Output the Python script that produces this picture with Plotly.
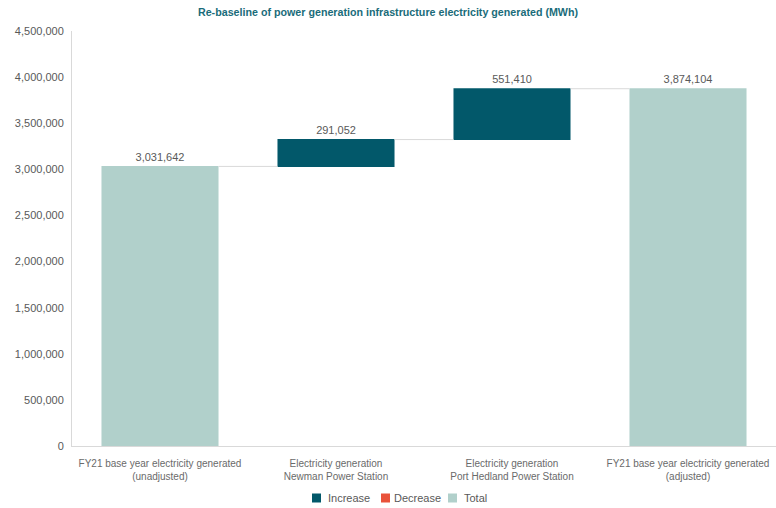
import plotly.graph_objects as go

categories = [
    "FY21 base year electricity generated<br>(unadjusted)",
    "Electricity generation<br>Newman Power Station",
    "Electricity generation<br>Port Hedland Power Station",
    "FY21 base year electricity generated<br>(adjusted)",
]
measures = ["absolute", "relative", "relative", "total"]
values = [3031642, 291052, 551410, 0]
legend_names = ["Increase", "Decrease", "Total"]

total = sum(values[:3])
labels = [f"{v:,}" for v in values[:3]] + [f"{total:,}"]

C_INC = "#02586a"
C_DEC = "#e9523a"
C_TOT = "#b1d0cb"
GREY = "#595959"
FONT = "Liberation Sans, Arial, sans-serif"

W, H = 776, 508
ML, MR, MT, MB = 72, 0, 31, 62
PW, PH = W - ML - MR, H - MT - MB


def px(x):
    return (x - ML) / PW


def py(y):
    return (H - MB - y) / PH


fig = go.Figure()
fig.add_trace(go.Waterfall(
    x=categories, y=values, measure=measures,
    text=labels, textposition="outside",
    textfont=dict(size=11, color=GREY, family=FONT),
    increasing=dict(marker=dict(color=C_INC)),
    decreasing=dict(marker=dict(color=C_DEC)),
    totals=dict(marker=dict(color=C_TOT)),
    connector=dict(mode="between", line=dict(color="#d9d9d9", width=1)),
    showlegend=False, cliponaxis=False, hoverinfo="skip",
))

# manual compact legend
leg_sq = [312, 381, 448]
leg_tx = [326, 392, 462]
shapes, annots = [], []
for name, col, sx, tx in zip(legend_names, [C_INC, C_DEC, C_TOT], leg_sq, leg_tx):
    shapes.append(dict(type="rect", xref="paper", yref="paper",
                       x0=px(sx), x1=px(sx + 9), y0=py(502.5), y1=py(493.5),
                       fillcolor=col, line=dict(width=0)))
    annots.append(dict(text=name, xref="paper", yref="paper", x=px(tx), y=py(498),
                       xanchor="left", yanchor="middle", showarrow=False,
                       font=dict(size=11, color=GREY, family=FONT)))

fig.update_layout(
    width=W, height=H,
    margin=dict(l=ML, r=MR, t=MT, b=MB),
    paper_bgcolor="white", plot_bgcolor="white",
    font=dict(family=FONT, color=GREY, size=11),
    title=dict(text="<b>Re-baseline of power generation infrastructure electricity generated (MWh)</b>",
               x=0.5, xanchor="center", y=0.975, yanchor="middle",
               font=dict(size=10.7, color="#1a6c7a", family=FONT)),
    waterfallgap=0.335,
    showlegend=False,
    shapes=shapes, annotations=annots,
)
fig.update_xaxes(showline=True, linecolor="#d9d9d9", linewidth=1, showgrid=False,
                 tickfont=dict(size=10, color="#6a6a6a"), ticks="", ticklabelstandoff=8)
fig.update_yaxes(range=[0, 4500000], dtick=500000, tickformat=",", showgrid=False,
                 showline=True, linecolor="#d9d9d9", linewidth=1, zeroline=False,
                 tickfont=dict(size=11, color=GREY), ticklabelstandoff=5)

fig.write_html("out.html")
